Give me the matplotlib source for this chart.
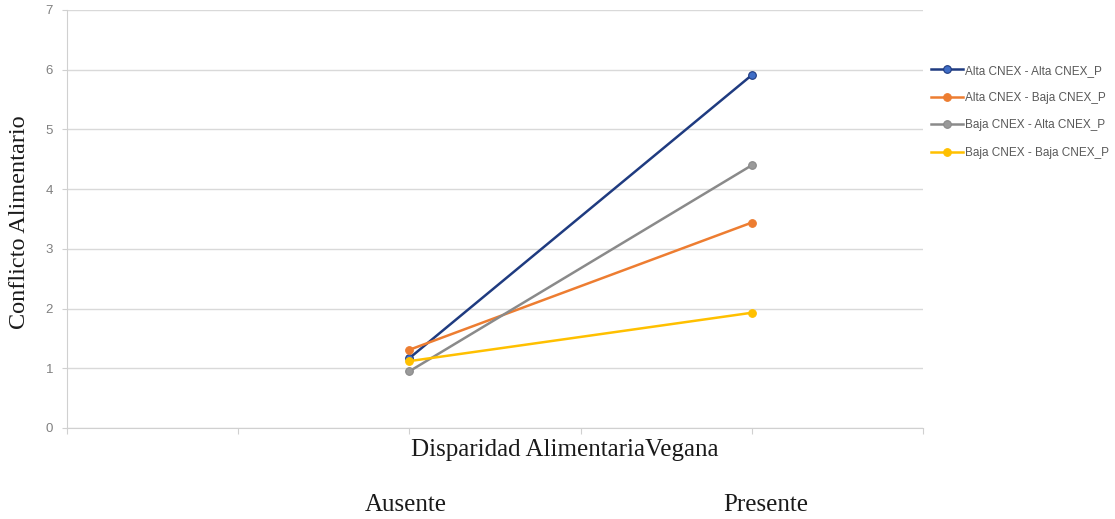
import matplotlib
matplotlib.use("Agg")
import matplotlib.pyplot as plt

categories = ["Ausente", "Presente"]
series_names = ["Alta CNEX - Alta CNEX_P", "Alta CNEX - Baja CNEX_P",
                "Baja CNEX - Alta CNEX_P", "Baja CNEX - Baja CNEX_P"]
alta_alta = [1.17, 5.91]
alta_baja = [1.31, 3.44]
baja_alta = [0.95, 4.40]
baja_baja = [1.12, 1.93]
y_ticks = [0, 1, 2, 3, 4, 5, 6, 7]

cat_pos = [2, 4]

fig = plt.figure(figsize=(11.15, 5.19), dpi=100)
ax = fig.add_axes([67/1115, 1-428/519, (923-67)/1115, (428-10)/519])

styles = [
    (alta_alta, "#1f3b80", "#3f6dc6"),
    (alta_baja, "#ed7d31", "#ed7d31"),
    (baja_alta, "#8a8a8a", "#9a9a9a"),
    (baja_baja, "#ffc000", "#ffc000"),
]
for (vals, lc, mc), name in zip(styles, series_names):
    ax.plot(cat_pos, vals, color=lc, lw=1.8, marker="o", ms=5.5,
            mfc=mc, mec=lc, mew=0.8, label=name)

ax.set_xlim(0, 5)
ax.set_ylim(0, 7)
ax.set_yticks(y_ticks)
ax.set_xticks([0, 1, 2, 3, 4, 5])
ax.set_xticklabels([])
ax.grid(axis="y", color="#d9d9d9", lw=1)
ax.set_axisbelow(True)
for s in ["top", "right"]:
    ax.spines[s].set_visible(False)
for s in ["left", "bottom"]:
    ax.spines[s].set_color("#d0d0d0")
ax.tick_params(axis="y", colors="#d0d0d0", labelcolor="#808080", labelsize=9.5,
               length=3.6, pad=6.5)
ax.tick_params(axis="x", colors="#d0d0d0", length=4)
for lab in ax.get_yticklabels():
    lab.set_fontfamily("Liberation Sans")

serif = "Liberation Serif"
fig.text(20/1115, 1-222/519, "Conflicto Alimentario", rotation=90,
         ha="center", va="center", fontsize=17.5, family=serif, color="#1a1a1a")
fig.text(565/1115, 1-450/519, "Disparidad AlimentariaVegana",
         ha="center", va="center", fontsize=18, family=serif, color="#1a1a1a")
for cat, xpx in zip(categories, [406, 766]):
    fig.text(xpx/1115, 1-505/519, cat, ha="center", va="center",
             fontsize=18, family=serif, color="#1a1a1a")

leg = fig.legend(loc="upper left", bbox_to_anchor=(920/1115, 1-54/519),
                 frameon=False, handlelength=2.75,
                 handletextpad=0.2, labelspacing=1.3,
                 prop={"family": "Liberation Sans", "size": 8.5})
for t in leg.get_texts():
    t.set_color("#595959")

fig.savefig("out.png", dpi=100)
